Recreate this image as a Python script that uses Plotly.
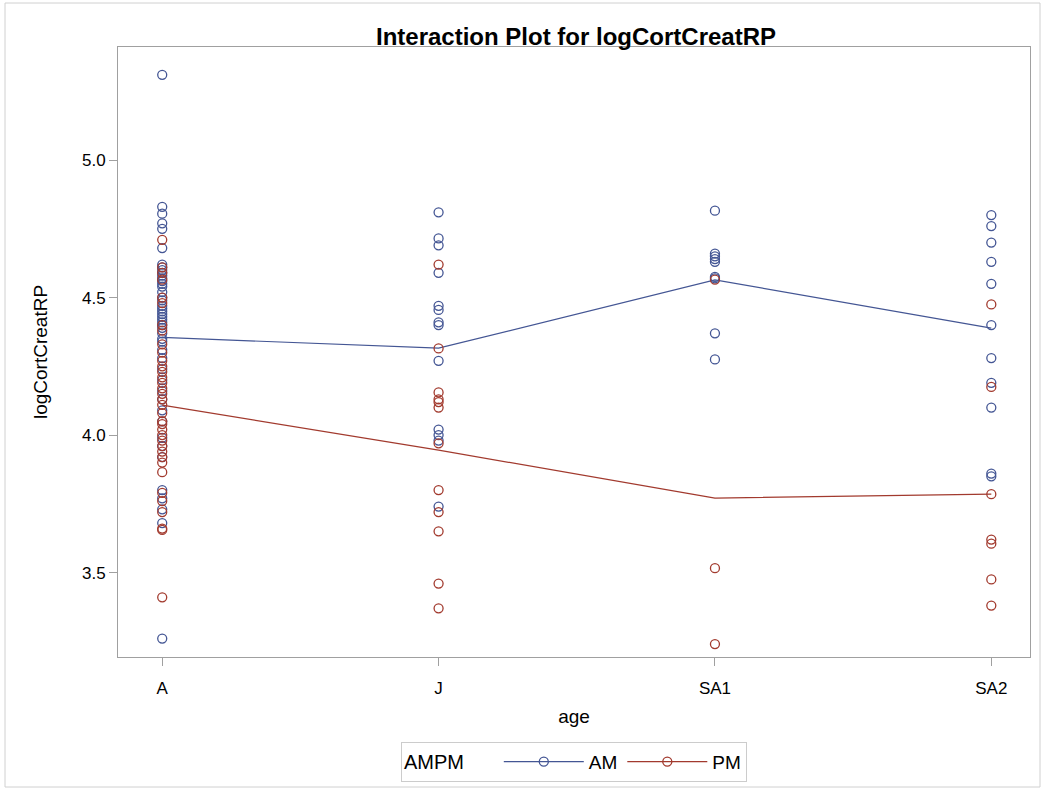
import plotly.graph_objects as go

categories = ["A", "J", "SA1", "SA2"]

am_A = [5.31, 4.83, 4.805, 4.77, 4.75, 4.68, 4.62, 4.61, 4.60, 4.59, 4.58, 4.57, 4.56, 4.55,
        4.54, 4.52, 4.50, 4.49, 4.47, 4.46, 4.45, 4.44, 4.43, 4.42, 4.41, 4.40, 4.39, 4.37,
        4.35, 4.34, 4.31, 4.28, 4.24, 4.20, 4.16, 4.13, 4.09, 4.05, 3.99, 3.96, 3.92, 3.80,
        3.77, 3.73, 3.68, 3.26]
am_J = [4.81, 4.715, 4.69, 4.59, 4.47, 4.455, 4.41, 4.40, 4.27, 4.02, 4.00, 3.98, 3.74]
am_SA1 = [4.816, 4.66, 4.65, 4.64, 4.63, 4.575, 4.57, 4.37, 4.275]
am_SA2 = [4.80, 4.76, 4.70, 4.63, 4.55, 4.40, 4.28, 4.19, 4.10, 3.86, 3.85]

pm_A = [4.71, 4.61, 4.59, 4.565, 4.50, 4.48, 4.40, 4.38, 4.33, 4.30, 4.27, 4.25, 4.23, 4.21,
        4.19, 4.17, 4.15, 4.13, 4.11, 4.08, 4.05, 4.04, 4.02, 4.00, 3.98, 3.96, 3.94, 3.92,
        3.90, 3.865, 3.79, 3.76, 3.72, 3.66, 3.655, 3.41]
pm_J = [4.62, 4.315, 4.155, 4.13, 4.12, 4.10, 3.97, 3.80, 3.72, 3.65, 3.46, 3.37]
pm_SA1 = [4.565, 3.516, 3.24]
pm_SA2 = [4.475, 4.175, 3.785, 3.62, 3.605, 3.475, 3.38]

am_means = [4.355, 4.316, 4.564, 4.389]
pm_means = [4.109, 3.945, 3.771, 3.785]

yticks = [3.5, 4.0, 4.5, 5.0]
ytick_labels = ["3.5", "4.0", "4.5", "5.0"]

BLUE = "#445694"
RED = "#A23A2E"
FONT = "Liberation Sans, Arial, sans-serif"

fig = go.Figure()

def add_group(name, groups, means, color):
    xs, ys = [], []
    for cat, vals in zip(categories, groups):
        xs += [cat] * len(vals)
        ys += vals
    fig.add_trace(go.Scatter(
        x=xs, y=ys, mode="markers", showlegend=False, legendgroup=name,
        marker=dict(symbol="circle-open", size=9, color=color, line=dict(width=1.3, color=color)),
        hoverinfo="skip"))
    fig.add_trace(go.Scatter(
        x=categories, y=means, mode="lines", name=name, legendgroup=name,
        line=dict(color=color, width=1.2), showlegend=False))
    fig.add_trace(go.Scatter(
        x=[None], y=[None], mode="lines+markers", name=name, legendgroup=name,
        line=dict(color=color, width=1.2),
        marker=dict(symbol="circle-open", size=9, color=color, line=dict(width=1.3, color=color))))

add_group("AM", [am_A, am_J, am_SA1, am_SA2], am_means, BLUE)
add_group("PM", [pm_A, pm_J, pm_SA1, pm_SA2], pm_means, RED)

fig.update_layout(
    width=1043, height=790,
    margin=dict(l=118, r=13, t=47, b=133, autoexpand=False),
    paper_bgcolor="white", plot_bgcolor="white",
    font=dict(family=FONT, size=17, color="#000"),
    title=dict(text="<b>Interaction Plot for logCortCreatRP</b>", x=576/1043, xanchor="center",
               y=1 - 37/790, yanchor="middle", font=dict(size=24, family=FONT)),
    xaxis=dict(type="category", categoryorder="array", categoryarray=categories,
               range=[-0.16, 3.14], showgrid=False, zeroline=False,
               showline=True, mirror=True, linecolor="#a0a0a0", linewidth=1,
               ticks="outside", ticklen=8, tickcolor="#a0a0a0",
               ticklabelstandoff=8,
               tickfont=dict(size=17, family=FONT),
               title=dict(text="age", font=dict(size=19, family=FONT), standoff=12)),
    yaxis=dict(range=[3.193, 5.411], showgrid=False, zeroline=False,
               showline=True, mirror=True, linecolor="#a0a0a0", linewidth=1,
               ticks="outside", ticklen=8, tickcolor="#a0a0a0",
               tickvals=yticks, ticktext=ytick_labels,
               tickfont=dict(size=17, family=FONT),
               title=dict(text="logCortCreatRP", font=dict(size=19, family=FONT), standoff=29)),
    legend=dict(orientation="h", x=0.5, xanchor="center", y=-0.139, yanchor="top",
                title=dict(text="AMPM     ", font=dict(size=20, family=FONT)),
                font=dict(size=19, family=FONT),
                bordercolor="#cccccc", borderwidth=1, itemwidth=80),
    shapes=[dict(type="rect", xref="paper", yref="paper",
                 x0=(5 - 118) / 912, x1=(1040 - 118) / 912,
                 y0=(657 - 787) / 610, y1=(657 - 3) / 610,
                 line=dict(color="#d0d0d0", width=1), fillcolor="rgba(0,0,0,0)", layer="below")],
)

fig.write_html("out.html")
